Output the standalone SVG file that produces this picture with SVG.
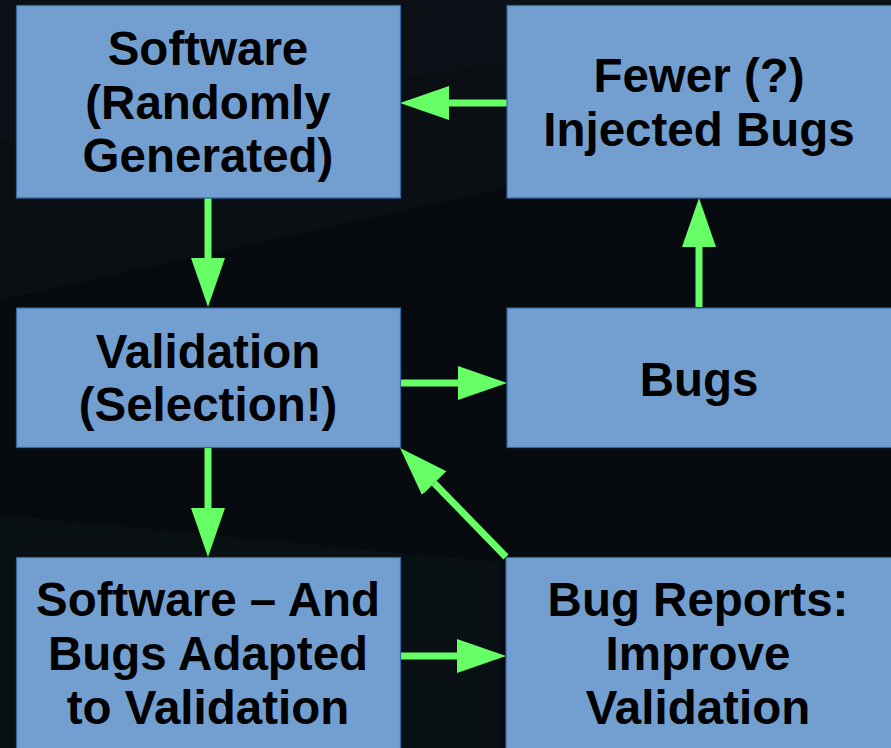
<svg xmlns="http://www.w3.org/2000/svg" width="891" height="748" viewBox="0 0 891 748">
  <style>
    .box { fill: #729fcf; stroke: #3465a4; stroke-width: 1.2; }
    .label { font-family: "Liberation Sans", Arial, sans-serif; font-weight: bold; font-size: 47.5px; fill: #000; text-anchor: middle; }
    .conn { stroke: #66ff66; stroke-width: 7; fill: none; marker-end: url(#head); }
  </style>
  <defs>
    <marker id="head" markerUnits="userSpaceOnUse" markerWidth="50" markerHeight="36" viewBox="0 -18 50 36" refX="0" refY="0" orient="auto">
      <path d="M0,-17 L49,0 L0,17 Z" fill="#66ff66"/>
    </marker>
  </defs>

  <!-- dark backdrop with faint facets -->
  <rect x="0" y="0" width="891" height="748" fill="#070b0f"/>
  <polygon points="0,0 520,0 520,185 0,300" fill="#0a0f14"/>
  <polygon points="0,0 891,0 891,30 520,60 0,140" fill="#0d1419" opacity="0.5"/>
  <polygon points="0,515 500,562 500,748 0,748" fill="#091013"/>

  <!-- connectors -->
  <g id="connectors">
    <line class="conn" x1="507" y1="103" x2="449" y2="103"/>
    <line class="conn" x1="208" y1="198" x2="208" y2="258"/>
    <line class="conn" x1="401" y1="383" x2="458" y2="383"/>
    <line class="conn" x1="699" y1="307" x2="699" y2="247"/>
    <line class="conn" x1="208" y1="447" x2="208" y2="508"/>
    <line class="conn" x1="397" y1="656" x2="457" y2="656"/>
    <line class="conn" x1="506" y1="557" x2="434.2" y2="483.1"/>
  </g>

  <!-- nodes -->
  <g id="software-random">
    <rect class="box" x="16.5" y="5.5" width="384" height="192.5"/>
    <text class="label" x="208" y="65">Software</text>
    <text class="label" x="208" y="119">(Randomly</text>
    <text class="label" x="208" y="172">Generated)</text>
  </g>

  <g id="fewer-bugs">
    <rect class="box" x="507" y="5.5" width="390" height="192.5"/>
    <text class="label" x="699" y="92">Fewer (?)</text>
    <text class="label" x="699" y="146">Injected Bugs</text>
  </g>

  <g id="validation">
    <rect class="box" x="16.5" y="308" width="384" height="139.5"/>
    <text class="label" x="208" y="368">Validation</text>
    <text class="label" x="208" y="421">(Selection!)</text>
  </g>

  <g id="bugs">
    <rect class="box" x="507" y="308" width="390" height="139.5"/>
    <text class="label" x="699" y="396">Bugs</text>
  </g>

  <g id="adapted">
    <rect class="box" x="16.5" y="557.5" width="384" height="200"/>
    <text class="label" x="208" y="616">Software – And</text>
    <text class="label" x="208" y="670">Bugs Adapted</text>
    <text class="label" x="208" y="724">to Validation</text>
  </g>

  <g id="bug-reports">
    <rect class="box" x="506" y="557.5" width="390" height="200"/>
    <text class="label" x="698" y="616">Bug Reports:</text>
    <text class="label" x="698" y="670">Improve</text>
    <text class="label" x="698" y="724">Validation</text>
  </g>
</svg>
